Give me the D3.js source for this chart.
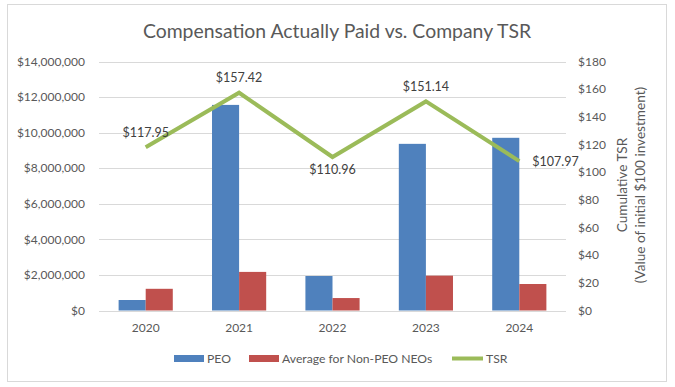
<!DOCTYPE html>
<meta charset="utf-8">
<style>
  body { margin: 0; background: #fff; }
  svg { font-family: Lato, "Open Sans", sans-serif; }
  .grid line { stroke: #d9d9d9; stroke-width: 1px; }
  .tick-label { fill: #595959; font-size: 12px; }
  .data-label { fill: #404040; font-size: 12.5px; }
</style>
<body>
<div id="chart"></div>
<script src="https://d3js.org/d3.v7.min.js"></script>
<script>
  // chart data
  var years = ["2020", "2021", "2022", "2023", "2024"];
  var peo = [590000, 11560000, 1940000, 9370000, 9710000];
  var nonPeo = [1220000, 2170000, 700000, 1960000, 1490000];
  var tsr = [117.95, 157.42, 110.96, 151.14, 107.97];
  var leftTicks = [0, 2000000, 4000000, 6000000, 8000000, 10000000, 12000000, 14000000];
  var rightTicks = [0, 20, 40, 60, 80, 100, 120, 140, 160, 180];
  var seriesNames = ["PEO", "Average for Non-PEO NEOs", "TSR"];
  var colors = ["#4f81bd", "#c0504d", "#9bbb59"];

  var width = 675, height = 387;
  var plot = {left: 99, right: 566, top: 61.5, bottom: 310.5};

  var svg = d3.select("#chart").append("svg")
      .attr("width", width)
      .attr("height", height);

  // outer border
  svg.append("rect")
      .attr("x", 7.5).attr("y", 4.5)
      .attr("width", 659).attr("height", 377)
      .attr("fill", "#fff")
      .attr("stroke", "#d9d9d9");

  // title
  svg.append("text")
      .attr("x", 337).attr("y", 37.5)
      .attr("text-anchor", "middle")
      .attr("fill", "#595959")
      .style("font-size", "19.4px")
      .text("Compensation Actually Paid vs. Company TSR");

  var x = d3.scaleBand()
      .domain(years)
      .range([plot.left, plot.right])
      .paddingInner(0.42)
      .paddingOuter(0.21);

  var xSub = d3.scaleBand()
      .domain([0, 1])
      .range([0, x.bandwidth()]);

  var yLeft = d3.scaleLinear()
      .domain([0, 14000000])
      .range([plot.bottom, plot.top]);

  var yRight = d3.scaleLinear()
      .domain([0, 180])
      .range([plot.bottom, plot.top]);

  // gridlines
  svg.append("g").attr("class", "grid")
    .selectAll("line")
    .data(leftTicks)
    .enter().append("line")
      .attr("x1", plot.left).attr("x2", plot.right)
      .attr("y1", function(d) { return Math.round(yLeft(d)) + 0.5; })
      .attr("y2", function(d) { return Math.round(yLeft(d)) + 0.5; });

  // left axis labels
  var fmtMoney = d3.format("$,");
  svg.append("g")
    .selectAll("text")
    .data(leftTicks)
    .enter().append("text")
      .attr("class", "tick-label")
      .attr("x", 85)
      .attr("y", function(d) { return yLeft(d); })
      .attr("dy", "0.35em")
      .attr("text-anchor", "end")
      .text(function(d) { return fmtMoney(d); });

  // right axis labels
  svg.append("g")
    .selectAll("text")
    .data(rightTicks)
    .enter().append("text")
      .attr("class", "tick-label")
      .attr("x", 578)
      .attr("y", function(d) { return yRight(d); })
      .attr("dy", "0.35em")
      .text(function(d) { return "$" + d; });

  // right axis title
  var rt = svg.append("text")
      .attr("transform", "translate(631,185) rotate(-90)")
      .attr("text-anchor", "middle")
      .attr("fill", "#595959")
      .style("font-size", "13.6px");
  rt.append("tspan").attr("x", 0).attr("y", -4).text("Cumulative TSR");
  rt.append("tspan").attr("x", 0).attr("y", 14).text("(Value of initial $100 investment)");

  // bars
  var groups = svg.append("g")
    .selectAll("g")
    .data(years)
    .enter().append("g")
      .attr("transform", function(d) { return "translate(" + x(d) + ",0)"; });

  groups.append("rect")
      .attr("x", xSub(0))
      .attr("width", xSub.bandwidth())
      .attr("y", function(d, i) { return yLeft(peo[i]); })
      .attr("height", function(d, i) { return plot.bottom - yLeft(peo[i]); })
      .attr("fill", colors[0]);

  groups.append("rect")
      .attr("x", xSub(1))
      .attr("width", xSub.bandwidth())
      .attr("y", function(d, i) { return yLeft(nonPeo[i]); })
      .attr("height", function(d, i) { return plot.bottom - yLeft(nonPeo[i]); })
      .attr("fill", colors[1]);

  // x labels
  svg.append("g")
    .selectAll("text")
    .data(years)
    .enter().append("text")
      .attr("class", "tick-label")
      .attr("x", function(d) { return x(d) + x.bandwidth() / 2; })
      .attr("y", 332)
      .attr("text-anchor", "middle")
      .text(function(d) { return d; });

  // TSR line
  var line = d3.line()
      .x(function(d, i) { return x(years[i]) + x.bandwidth() / 2; })
      .y(function(d) { return yRight(d); });

  svg.append("path")
      .datum(tsr)
      .attr("fill", "none")
      .attr("stroke", colors[2])
      .attr("stroke-width", 4)
      .attr("d", line);

  // data labels: above, above, below, above, right
  var labelPos = ["above", "above", "below", "above", "right"];
  svg.append("g")
    .selectAll("text")
    .data(tsr)
    .enter().append("text")
      .attr("class", "data-label")
      .attr("x", function(d, i) {
        var cx = x(years[i]) + x.bandwidth() / 2;
        return labelPos[i] == "right" ? cx + 13 : cx;
      })
      .attr("y", function(d, i) {
        var cy = yRight(d);
        if (labelPos[i] == "above") return cy - 15;
        if (labelPos[i] == "below") return cy + 13;
        return cy;
      })
      .attr("dy", "0.35em")
      .attr("text-anchor", function(d, i) { return labelPos[i] == "right" ? "start" : "middle"; })
      .text(function(d) { return "$" + d.toFixed(2); });

  // legend
  var legend = svg.append("g");
  var legendX = [174, 249, 452];
  seriesNames.forEach(function(name, i) {
    if (i < 2) {
      legend.append("rect")
          .attr("x", legendX[i]).attr("y", 355)
          .attr("width", 30).attr("height", 7)
          .attr("fill", colors[i]);
    } else {
      legend.append("line")
          .attr("x1", legendX[i]).attr("x2", legendX[i] + 31)
          .attr("y1", 358.5).attr("y2", 358.5)
          .attr("stroke", colors[i])
          .attr("stroke-width", 4);
    }
    legend.append("text")
        .attr("class", "tick-label")
        .attr("x", legendX[i] + (i < 2 ? 33 : 34))
        .attr("y", 358.5)
        .attr("dy", "0.35em")
        .style("font-size", "12.2px")
        .text(name);
  });
</script>
</body>
